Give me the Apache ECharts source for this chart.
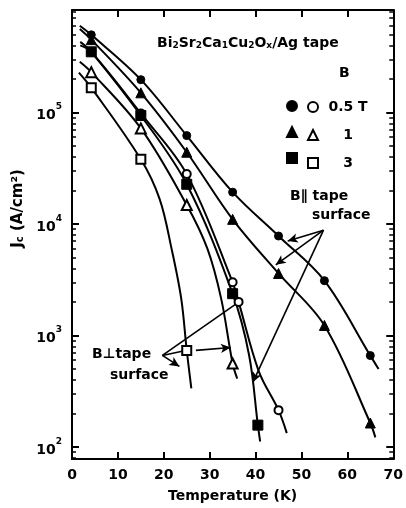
<!DOCTYPE html>
<html>
<head>
<meta charset="utf-8">
<title>Jc vs temperature</title>
<script src="https://cdn.jsdelivr.net/npm/echarts@6/dist/echarts.min.js"></script>
<style>html,body{margin:0;padding:0;background:#fff;}</style>
</head>
<body>
<div id="main" style="width:406px;height:508px;"></div>
<script>
// measured points, T in K, Jc in A/cm2
var tPar05 = [4.2, 15, 25, 35, 45, 55, 65];
var jPar05 = [4.97e5, 1.97e5, 6.2e4, 1.93e4, 7.8e3, 3.1e3, 660];
var tPar1 = [4.2, 15, 25, 35, 45, 55, 65];
var jPar1 = [4.5e5, 1.5e5, 4.4e4, 1.1e4, 3.6e3, 1.23e3, 164];
var tPar3 = [4.2, 15, 25, 35, 40.5];
var jPar3 = [3.5e5, 9.4e4, 2.27e4, 2.37e3, 157];
var tPerp05 = [4.2, 15, 25, 35, 36.3, 45];
var jPerp05 = [3.5e5, 9.8e4, 2.8e4, 3.0e3, 2.0e3, 214];
var tPerp1 = [4.2, 15, 25, 35];
var jPerp1 = [2.3e5, 7.2e4, 1.48e4, 560];
var tPerp3 = [4.2, 15, 25];
var jPerp3 = [1.67e5, 3.8e4, 735];

// extra points (ends and bends)
var cPar05T = [1.7, 66.8];
var cPar05J = [6.0e5, 500];
var cPar1T = [1.7, 66.1];
var cPar1J = [5.6e5, 122];
var cPar3T = [1.8, 38.6, 41];
var cPar3J = [4.3e5, 662, 112];
var cPerp05T = [1.8, 40.7, 46.8];
var cPerp05J = [4.0e5, 477, 133];
var cPerp1T = [1.7, 29.5, 32.5, 36];
var cPerp1J = [2.85e5, 6.0e3, 2.14e3, 410];
var cPerp3T = [1.5, 19.1, 21.7, 23.8, 26];
var cPerp3J = [2.28e5, 1.67e4, 5980, 2140, 336];

var yDecades = [2, 3, 4, 5];
var legendText = ['0.5 T', '1', '3'];

// annotation arrows [fromT, fromJ, toT, toJ, arrowhead]
var arrowsPar = [
    [54.8, 8.8e3, 47.0, 7.05e3, 1],
    [54.8, 8.8e3, 44.4, 4.3e3, 1],
    [54.8, 8.8e3, 39.4, 380, 1]
];
var arrowsPerp = [
    [19.7, 662, 36.0, 1.95e3, 0],
    [19.7, 662, 24.5, 730, 0],
    [27.0, 735, 34.6, 781, 1],
    [19.7, 662, 23.4, 528, 1]
];

var yMin = Math.log10(78), yMax = Math.log10(830000);
var font = 'DejaVu Sans';

function pts(t, j) {
    return t.map(function (v, i) { return [v, Math.log10(j[i])]; });
}
function curve(t, j, ct, cj) {
    return pts(t, j).concat(pts(ct, cj)).sort(function (a, b) { return a[0] - b[0]; });
}
function minorTicks() {
    var out = [];
    for (var n = 1; n <= 5; n++) {
        for (var k = 2; k <= 9; k++) {
            var v = n + Math.log10(k);
            if (v > yMin && v < yMax) out.push(v);
        }
    }
    return out;
}
function arrowLines(list) {
    return list.map(function (a) {
        return [
            { coord: [a[0], Math.log10(a[1])], symbol: 'none' },
            { coord: [a[2], Math.log10(a[3])], symbol: a[4] ? 'arrow' : 'none' }
        ];
    });
}

var lineStyle = { color: '#000', width: 2 };
function lineSeries(data, marks) {
    var s = {
        type: 'line', data: data, smooth: 0.35,
        showSymbol: false, lineStyle: lineStyle, silent: true, z: 2
    };
    if (marks) {
        s.markLine = {
            silent: true, animation: false, symbolSize: [7, 10],
            lineStyle: { color: '#000', width: 1.6, type: 'solid' },
            label: { show: false }, data: marks
        };
    }
    return s;
}
function markerSeries(name, data, symbol, size, filled) {
    return {
        name: name, type: 'scatter', data: data, symbol: symbol, symbolSize: size, z: 5,
        itemStyle: filled ? { color: '#000', borderColor: '#000', borderWidth: 1, opacity: 1 }
                          : { color: '#fff', borderColor: '#000', borderWidth: 2, opacity: 1 }
    };
}

var majorTick = { show: true, inside: true, length: 7, lineStyle: { color: '#000', width: 2 } };
var minorTick = { show: true, inside: true, length: 4, lineStyle: { color: '#000', width: 1.5 }, customValues: minorTicks() };
var axLine = { show: true, lineStyle: { color: '#000', width: 2 } };

function yAxisBase(pos) {
    return { type: 'value', position: pos, min: yMin, max: yMax, splitLine: { show: false } };
}

var myChart = echarts.init(document.getElementById('main'));
var option = {
    backgroundColor: '#fff',
    animation: false,
    textStyle: { fontFamily: font },
    grid: { left: 72, right: 9, top: 10, bottom: 47 },
    xAxis: [{
        type: 'value', min: 0, max: 70, interval: 10, position: 'bottom',
        axisLine: axLine, axisTick: majorTick, splitLine: { show: false },
        axisLabel: { color: '#000', fontSize: 14, fontWeight: 'bold', fontFamily: font, margin: 9 },
        name: 'Temperature (K)', nameLocation: 'middle', nameGap: 30,
        nameTextStyle: { color: '#000', fontSize: 14, fontWeight: 'bold', fontFamily: font }
    }, {
        type: 'value', min: 0, max: 70, interval: 10, position: 'top',
        axisLine: axLine, axisTick: majorTick, axisLabel: { show: false }, splitLine: { show: false }
    }],
    yAxis: [
        Object.assign(yAxisBase('left'), {
            axisLine: axLine,
            axisTick: Object.assign({}, majorTick, { customValues: yDecades }),
            axisLabel: {
                customValues: yDecades, margin: 10, color: '#000',
                formatter: function (v) { return '{b|10}{s|' + Math.round(v) + '}'; },
                rich: {
                    b: { fontSize: 14, fontWeight: 'bold', fontFamily: font, color: '#000', lineHeight: 20, verticalAlign: 'bottom' },
                    s: { fontSize: 9, fontWeight: 'bold', fontFamily: font, color: '#000', lineHeight: 9, verticalAlign: 'top' }
                }
            },
            name: 'J{c|c} (A/cm²)', nameLocation: 'middle', nameGap: 46, nameRotate: 90,
            nameTextStyle: {
                color: '#000', fontSize: 15, fontWeight: 'bold', fontFamily: font,
                padding: [0, 0, 0, 52],
                rich: { c: { fontSize: 10, fontWeight: 'bold', fontFamily: font, color: '#000', verticalAlign: 'bottom', lineHeight: 10 } }
            }
        }),
        Object.assign(yAxisBase('left'), { axisLine: { show: false }, axisTick: minorTick, axisLabel: { show: false } }),
        Object.assign(yAxisBase('right'), {
            axisLine: axLine, axisLabel: { show: false },
            axisTick: Object.assign({}, majorTick, { customValues: yDecades })
        }),
        Object.assign(yAxisBase('right'), { axisLine: { show: false }, axisTick: minorTick, axisLabel: { show: false } })
    ],
    legend: [{
        data: ['par05', 'par1', 'par3'], orient: 'vertical', left: 281, top: 95,
        itemWidth: 10, itemHeight: 10, itemGap: 14, selectedMode: false,
        formatter: function () { return ''; }
    }, {
        data: ['perp05', 'perp1', 'perp3'], orient: 'vertical', left: 302, top: 95,
        itemWidth: 10, itemHeight: 10, itemGap: 14, selectedMode: false,
        formatter: function (n) { return '{v|' + legendText[['perp05', 'perp1', 'perp3'].indexOf(n)] + '}'; },
        textStyle: { rich: { v: { width: 50, align: 'center', fontSize: 14, fontWeight: 'bold', fontFamily: font, color: '#000' } } }
    }],
    graphic: [{
        type: 'text', left: 157, top: 36,
        style: {
            text: 'Bi{s|2}Sr{s|2}Ca{s|1}Cu{s|2}O{s|x}/Ag tape',
            font: 'bold 14px "DejaVu Sans"', fill: '#000',
            rich: {
                s: { fontSize: 9, fontWeight: 'bold', fontFamily: font, verticalAlign: 'bottom', lineHeight: 9 }
            }
        }
    }, {
        type: 'text', left: 339, top: 66,
        style: { text: 'B', font: 'bold 14px "DejaVu Sans"', fill: '#000' }
    }, {
        type: 'text', left: 290, top: 189,
        style: { text: 'B∥ tape', font: 'bold 14px "DejaVu Sans"', fill: '#000' }
    }, {
        type: 'text', left: 312, top: 208,
        style: { text: 'surface', font: 'bold 14px "DejaVu Sans"', fill: '#000' }
    }, {
        type: 'text', left: 92, top: 347,
        style: { text: 'B⊥tape', font: 'bold 14px "DejaVu Sans"', fill: '#000' }
    }, {
        type: 'text', left: 110, top: 368,
        style: { text: 'surface', font: 'bold 14px "DejaVu Sans"', fill: '#000' }
    }],
    series: [
        lineSeries(curve(tPar05, jPar05, cPar05T, cPar05J), arrowLines(arrowsPar)),
        lineSeries(curve(tPar1, jPar1, cPar1T, cPar1J)),
        lineSeries(curve(tPar3, jPar3, cPar3T, cPar3J)),
        lineSeries(curve(tPerp05, jPerp05, cPerp05T, cPerp05J), arrowLines(arrowsPerp)),
        lineSeries(curve(tPerp1, jPerp1, cPerp1T, cPerp1J)),
        lineSeries(curve(tPerp3, jPerp3, cPerp3T, cPerp3J)),
        markerSeries('perp05', pts(tPerp05, jPerp05), 'circle', 8, false),
        markerSeries('par05', pts(tPar05, jPar05), 'circle', 8, true),
        markerSeries('par1', pts(tPar1, jPar1), 'triangle', 10, true),
        markerSeries('par3', pts(tPar3, jPar3), 'rect', 10, true),
        markerSeries('perp1', pts(tPerp1, jPerp1), 'triangle', 10, false),
        markerSeries('perp3', pts(tPerp3, jPerp3), 'rect', 9, false)
    ]
};
myChart.setOption(option);
</script>
</body>
</html>
